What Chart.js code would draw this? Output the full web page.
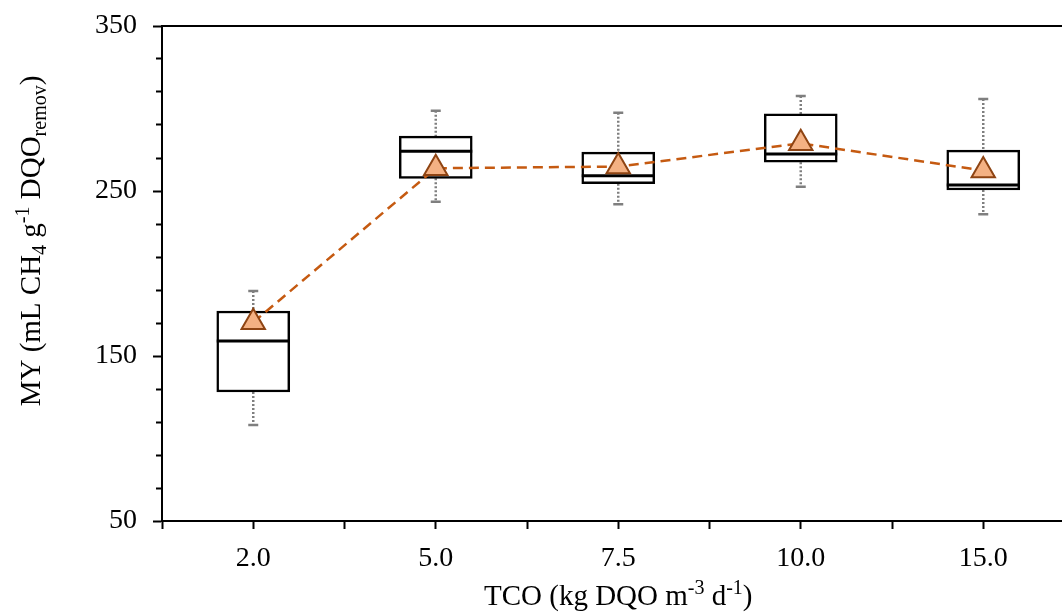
<!DOCTYPE html>
<html>
<head>
<meta charset="utf-8">
<script src="https://cdn.jsdelivr.net/npm/chart.js@4.4.1/dist/chart.umd.min.js"></script>
<style>
  body { margin: 0; background: #fff; }
  #wrap { width: 1062px; height: 612px; overflow: hidden; }
</style>
</head>
<body>
<div id="wrap"><canvas id="chart" width="1090" height="612"></canvas></div>
<script>
// TCO categories (kg DQO m-3 d-1)
const categories = ['2.0', '5.0', '7.5', '10.0', '15.0'];

// box plot values
const whiskerMax = [189.4, 298.7, 297.5, 307.6, 305.8];
const boxQ3      = [177.3, 283.3, 273.6, 296.7, 274.8];
const boxMedian  = [159.1, 274.1, 259.3, 272.4, 253.6];
const boxQ1      = [128.2, 257.7, 254.4, 267.4, 250.6];
const whiskerMin = [108.2, 243.5, 241.9, 252.6, 235.9];
const meanValues = [170.4, 263.8, 264.8, 278.9, 262.4];

// axis ticks
const yTickValues = [50, 70, 90, 110, 130, 150, 170, 190, 210, 230, 250, 270, 290, 310, 330, 350];
const yLabelValues = [50, 150, 250, 350];
const xTickValues = [0, 0.5, 1, 1.5, 2, 2.5, 3, 3.5, 4, 4.5, 5];

const FONT = "'Liberation Serif', 'Times New Roman', serif";
Chart.defaults.font.family = FONT;
Chart.defaults.font.size = 28;
Chart.defaults.color = '#000';

// each category sits in the middle of its slot on a 0..5 linear axis
const xPos = i => i + 0.5;

// whiskers: q3 -> max and q1 -> min, broken by null points
const whiskerPoints = [];
const whiskerCaps = [];
categories.forEach((c, i) => {
  whiskerPoints.push({x: xPos(i), y: whiskerMax[i]}, {x: xPos(i), y: boxQ3[i]}, {x: xPos(i), y: null});
  whiskerCaps.push(5, 0, 0);
  whiskerPoints.push({x: xPos(i), y: boxQ1[i]}, {x: xPos(i), y: whiskerMin[i]}, {x: xPos(i), y: null});
  whiskerCaps.push(0, 5, 0);
});

// draws text runs with sub/superscripts
function drawRich(ctx, runs, x, y, size) {
  const small = Math.round(size * 0.7);
  let total = 0;
  runs.forEach(r => {
    ctx.font = (r.s ? small : size) + 'px ' + FONT;
    r.w = ctx.measureText(r.t).width;
    total += r.w;
  });
  let cx = x - total / 2;
  runs.forEach(r => {
    ctx.font = (r.s ? small : size) + 'px ' + FONT;
    let dy = 0;
    if (r.s === 'sub') dy = size * 0.22;
    if (r.s === 'sup') dy = -size * 0.38;
    ctx.fillText(r.t, cx, y + dy);
    cx += r.w;
  });
}

const titlesPlugin = {
  id: 'richTitles',
  afterDraw(chart) {
    const ctx = chart.ctx;
    ctx.save();
    ctx.fillStyle = '#000';
    ctx.textAlign = 'left';
    ctx.textBaseline = 'alphabetic';
    const xs = chart.scales.x;
    drawRich(ctx, [
      {t: 'TCO (kg DQO m'}, {t: '-3', s: 'sup'}, {t: ' d'}, {t: '-1', s: 'sup'}, {t: ')'}
    ], (xs.left + xs.right) / 2, 605, 29);
    ctx.translate(40, 241);
    ctx.rotate(-Math.PI / 2);
    drawRich(ctx, [
      {t: 'MY (mL CH'}, {t: '4', s: 'sub'}, {t: ' g'}, {t: '-1', s: 'sup'}, {t: ' DQO'}, {t: 'remov', s: 'sub'}, {t: ')'}
    ], 0, 0, 29);
    ctx.restore();
  }
};

new Chart(document.getElementById('chart'), {
  type: 'bar',
  data: {
    datasets: [
      {
        type: 'line',
        data: whiskerPoints,
        borderColor: '#7f7f7f',
        borderWidth: 2.5,
        borderDash: [2, 2],
        spanGaps: false,
        pointStyle: 'line',
        pointRadius: whiskerCaps,
        pointBorderColor: '#7f7f7f',
        pointBorderWidth: 2.5,
        order: 4
      },
      {
        type: 'bar',
        data: categories.map((c, i) => ({x: xPos(i), y: [boxQ1[i], boxQ3[i]]})),
        backgroundColor: '#fff',
        borderColor: '#000',
        borderWidth: 2.5,
        borderSkipped: false,
        barThickness: 73,
        grouped: false,
        order: 3
      },
      {
        type: 'scatter',
        data: categories.map((c, i) => ({x: xPos(i), y: boxMedian[i]})),
        pointStyle: 'line',
        pointRadius: 36.5,
        pointBorderColor: '#000',
        pointBorderWidth: 3,
        order: 2
      },
      {
        type: 'line',
        data: categories.map((c, i) => ({x: xPos(i), y: meanValues[i]})),
        borderColor: '#C55A11',
        borderWidth: 2.5,
        borderDash: [10, 6],
        pointStyle: 'triangle',
        pointRadius: 13.5,
        pointBackgroundColor: '#F4B183',
        pointBorderColor: '#8E4413',
        pointBorderWidth: 2,
        order: 1
      }
    ]
  },
  options: {
    responsive: false,
    animation: false,
    layout: { autoPadding: false, padding: { left: 0, right: 15.5, top: 0, bottom: 0 } },
    plugins: { legend: { display: false }, tooltip: { enabled: false } },
    scales: {
      x: {
        type: 'linear',
        position: 'bottom',
        min: 0,
        max: 5,
        offset: false,
        afterBuildTicks: s => { s.ticks = xTickValues.map(v => ({value: v})); },
        afterFit: s => { s.height = 91; s.paddingLeft = 0; s.paddingRight = 0; },
        ticks: {
          autoSkip: false,
          maxRotation: 0,
          padding: 13,
          callback: v => {
            const i = categories.findIndex((c, k) => xPos(k) === v);
            return i >= 0 ? categories[i] : '';
          }
        },
        grid: { offset: false, drawOnChartArea: false, tickLength: 8, tickWidth: 2, tickColor: '#000' },
        border: { color: '#000', width: 2 }
      },
      xTop: {
        type: 'linear',
        position: 'top',
        min: 0,
        max: 5,
        afterFit: s => { s.height = 26; },
        ticks: { display: false },
        grid: { drawOnChartArea: false, drawTicks: false },
        border: { color: '#000', width: 2 }
      },
      y: {
        min: 50,
        max: 350,
        afterBuildTicks: s => { s.ticks = yTickValues.map(v => ({value: v})); },
        afterFit: s => { s.width = 162; s.paddingTop = 0; s.paddingBottom = 0; },
        ticks: {
          autoSkip: false,
          padding: 16,
          callback: v => yLabelValues.includes(v) ? String(v) : ''
        },
        grid: {
          drawOnChartArea: false,
          tickLength: 9,
          tickWidth: 2,
          tickColor: '#000',
          tickBorderDash: c => (c.tick && !yLabelValues.includes(c.tick.value)) ? [0, 3, 6, 100] : []
        },
        border: { color: '#000', width: 2 }
      }
    }
  },
  plugins: [titlesPlugin]
});
</script>
</body>
</html>
